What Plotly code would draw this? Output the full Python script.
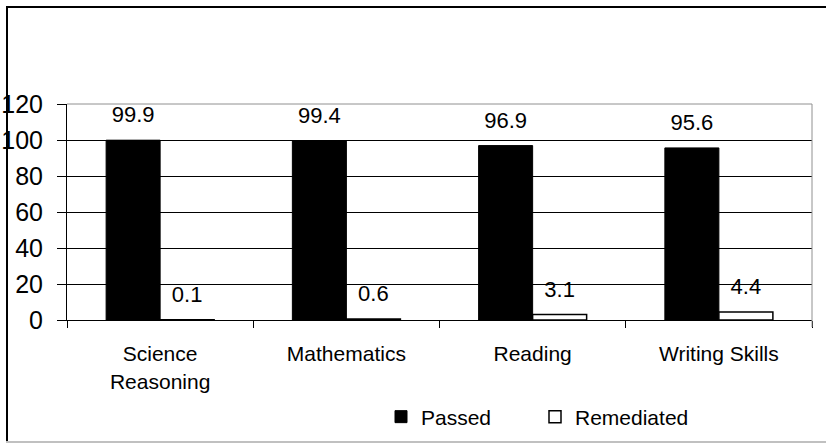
import plotly.graph_objects as go

categories = ["Science<br>Reasoning", "Mathematics", "Reading", "Writing Skills"]
passed = [99.9, 99.4, 96.9, 95.6]
remediated = [0.1, 0.6, 3.1, 4.4]
y_ticks = [0, 20, 40, 60, 80, 100, 120]

FONT = "Liberation Sans, Arial, sans-serif"

fig = go.Figure()
fig.add_trace(go.Bar(
    x=categories, y=passed, name="Passed", offsetgroup="p", alignmentgroup="a",
    marker=dict(color="black", line=dict(color="black", width=1)),
    hoverinfo="x+y",
))
fig.add_trace(go.Bar(
    x=categories, y=remediated, name="Remediated", offsetgroup="r", alignmentgroup="a",
    marker=dict(color="white", line=dict(color="black", width=1.5)),
    hoverinfo="x+y",
))
# value labels, grouped like the bars
for vals, grp in ((passed, "p"), (remediated, "r")):
    fig.add_trace(go.Scatter(
        x=categories, y=vals, mode="markers+text", orientation="v",
        offsetgroup=grp, alignmentgroup="a",
        text=[f"{v}" for v in vals], textposition="top center",
        textfont=dict(family=FONT, size=22, color="black"),
        marker=dict(size=18, opacity=0),
        showlegend=False, hoverinfo="skip", cliponaxis=False,
    ))

W, H = 826, 443
L, R, T, B = 67, 14, 104, 123
pw, ph = W - L - R, H - T - B

def px_x(p):
    return (p - L) / pw

def px_y(p):
    return (H - B - p) / ph

shapes = [
    # outer frame
    dict(type="line", xref="paper", yref="paper", x0=px_x(7), x1=px_x(7), y0=px_y(6), y1=px_y(442),
         line=dict(color="black", width=2)),
    dict(type="line", xref="paper", yref="paper", x0=px_x(6), x1=px_x(830), y0=px_y(7), y1=px_y(7),
         line=dict(color="black", width=2)),
    dict(type="line", xref="paper", yref="paper", x0=px_x(6), x1=px_x(830), y0=px_y(442), y1=px_y(442),
         line=dict(color="#c0c0c0", width=2)),
    # plot area top/right border in gray
    dict(type="line", xref="paper", yref="paper", x0=0, x1=1, y0=1, y1=1,
         line=dict(color="#909090", width=1)),
    dict(type="line", xref="paper", yref="paper", x0=1, x1=1, y0=px_y(327), y1=1,
         line=dict(color="#909090", width=1)),
]

fig.update_layout(
    width=W, height=H,
    margin=dict(l=L, r=R, t=T, b=B, pad=0, autoexpand=False),
    paper_bgcolor="white", plot_bgcolor="white",
    font=dict(family=FONT, size=21, color="black"),
    barmode="group", bargap=0.42, bargroupgap=0,
    scattermode="group", scattergap=0.42,
    showlegend=True,
    legend=dict(orientation="h", x=px_x(381), y=px_y(417), xanchor="left", yanchor="middle",
                font=dict(family=FONT, size=21, color="black"),
                entrywidth=109, entrywidthmode="pixels",
                bgcolor="rgba(0,0,0,0)", itemclick=False),
    xaxis=dict(
        automargin=False,
        showline=True, linecolor="black", linewidth=1,
        ticks="outside", ticklen=7, tickcolor="black", tickson="boundaries",
        showgrid=False, ticklabelstandoff=15,
        tickfont=dict(family=FONT, size=21, color="black"),
    ),
    yaxis=dict(
        automargin=False,
        range=[0, 120], tickvals=y_ticks, ticktext=[str(v) for v in y_ticks],
        showline=True, linecolor="black", linewidth=1,
        ticks="outside", ticklen=9, tickcolor="black",
        showgrid=True, gridcolor="black", gridwidth=1, zeroline=False,
        ticklabelstandoff=9,
        tickfont=dict(family=FONT, size=25, color="black"),
    ),
    shapes=shapes,
)

fig.write_html("out.html", config={"displayModeBar": False},
               post_script="document.body.style.margin='0';document.body.style.overflow='hidden';")
